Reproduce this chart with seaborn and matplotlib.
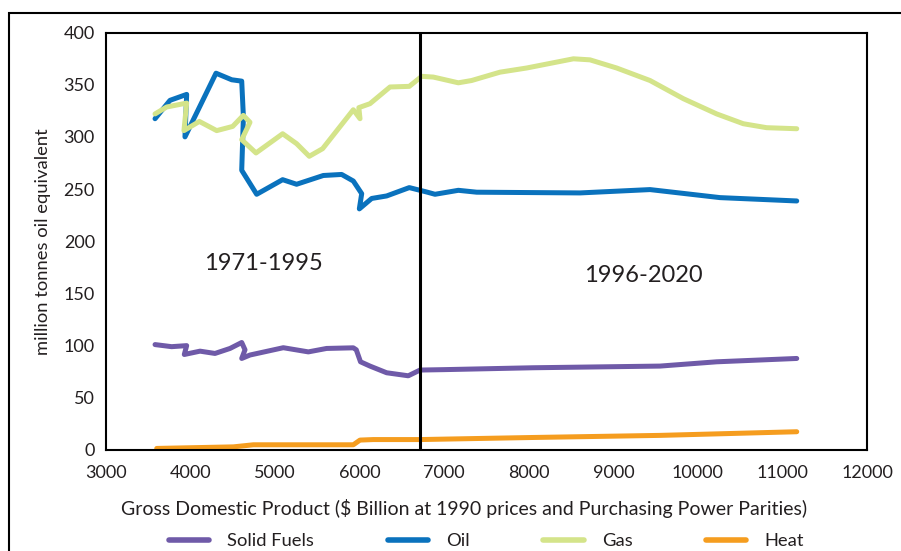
import matplotlib
matplotlib.use("Agg")
import matplotlib.pyplot as plt
from matplotlib.patches import Rectangle
import pandas as pd
import seaborn as sns

# Primary energy demand against GDP (million tonnes oil equivalent)
solid_gdp = [3580, 3776, 3954, 3926, 4112, 4289, 4467, 4605, 4644, 4605, 4703,
             5097, 5393, 5609, 5925, 5960, 6010, 6122, 6319, 6575, 6714, 7000,
             8053, 9552, 10222, 11169]
solid_val = [101, 99, 100, 91.5, 94.7, 92.5, 97.3, 103, 96, 87.7, 91,
             98, 94, 97.3, 97.9, 96, 84.5, 80.4, 74, 71.1, 76.6, 77,
             78.8, 80.4, 84.5, 87.7]

oil_gdp = [3580, 3757, 3954, 3934, 4301, 4487, 4605, 4625, 4605, 4782, 5089,
           5254, 5570, 5787, 5925, 6024, 5996, 6142, 6319, 6587, 6792, 6891,
           7167, 7384, 8606, 9434, 10262, 11169]
oil_val = [317.4, 335, 340.7, 300, 361, 354.7, 353.4, 319, 268, 245, 259,
           254.6, 263, 264, 257.7, 245.6, 231, 241, 243.4, 251.4, 247.2, 245,
           248.8, 247, 246.3, 249.5, 241.8, 238.6]

gas_gdp = [3580, 3717, 3954, 3922, 4104, 4309, 4498, 4624, 4703, 4605, 4774,
           5089, 5254, 5404, 5562, 5925, 6004, 5990, 6122, 6359, 6587, 6734,
           6871, 7167, 7324, 7660, 7976, 8528, 8724, 9039, 9434, 9828, 10222,
           10537, 10813, 11169]
gas_val = [322, 328.6, 332.4, 306, 314.8, 306, 310, 320.6, 314, 297.3, 284.6,
           303, 293.5, 281.4, 288.7, 326, 317.4, 328, 331.8, 347.8, 348.4, 358,
           357.3, 351.8, 354, 362, 366, 374.8, 373.8, 366, 354, 336.6, 322,
           312.6, 308.8, 307.8]

heat_gdp = [3600, 4506, 4743, 5925, 6004, 6161, 6714, 8053, 9552, 11169]
heat_val = [1.5, 3, 5, 5, 9.5, 10, 10, 12, 14, 17.5]

fuels = ["Solid Fuels", "Oil", "Gas", "Heat"]
colors = ["#6f5aa8", "#0a72bd", "#d4e48a", "#f59d1f"]

frames = []
for name, gx, gy in zip(fuels,
                        [solid_gdp, oil_gdp, gas_gdp, heat_gdp],
                        [solid_val, oil_val, gas_val, heat_val]):
    frames.append(pd.DataFrame({"gdp": gx, "mtoe": gy, "fuel": name}))
df = pd.concat(frames, ignore_index=True)

sns.set_style("white")
plt.rcParams["font.family"] = ["Lato", "DejaVu Sans"]
text_color = "#231f20"

fig = plt.figure(figsize=(9.01, 5.51), dpi=100)
ax = fig.add_axes([106 / 901, 1 - 450 / 551, (867 - 106) / 901, (450 - 32.5) / 551])

sns.lineplot(data=df, x="gdp", y="mtoe", hue="fuel", hue_order=fuels,
             palette=colors, sort=False, estimator=None, linewidth=3.6,
             solid_capstyle="round", solid_joinstyle="round", ax=ax,
             legend=False)

# Divider between the two periods
ax.axvline(6715, color="black", lw=2.2, zorder=5)

ax.text(4857, 179, "1971-1995", fontsize=17, ha="center", va="center",
        color=text_color)
ax.text(9351, 167, "1996-2020", fontsize=17, ha="center", va="center",
        color=text_color)

ax.set_xlim(3000, 12000)
ax.set_ylim(0, 400)
ax.set_xticks(range(3000, 12001, 1000))
ax.set_yticks(range(0, 401, 50))
ax.tick_params(axis="x", direction="out", length=5, width=1.4,
               labelsize=13, colors=text_color, pad=6)
ax.tick_params(axis="y", length=0, labelsize=13, colors=text_color, pad=8)
for sp in ax.spines.values():
    sp.set_visible(True)
    sp.set_color("black")
    sp.set_linewidth(1.5)

ax.set_xlabel("Gross Domestic Product ($ Billion at 1990 prices and Purchasing Power Parities)",
              fontsize=14, color=text_color)
ax.xaxis.set_label_coords((464 - 106) / 761, -(508 - 450) / 417.5)
ax.xaxis.label.set_va("center")
ax.set_ylabel("million tonnes oil equivalent", fontsize=13.2,
              color=text_color, labelpad=9)

handles = [plt.Line2D([], [], color=c, lw=4, solid_capstyle="round") for c in colors]
fig.legend(handles, fuels, loc="center", bbox_to_anchor=(486.5 / 901, 1 - 541 / 551),
           ncol=4, frameon=False, fontsize=13.2, handlelength=2.2,
           handletextpad=1.0, columnspacing=4.0, labelcolor=text_color)

# Outer frame around the chart
fig.patches.append(Rectangle((9 / 901, -0.1), 1.2, 1 - 13 / 551 + 0.1,
                             transform=fig.transFigure, fill=False,
                             edgecolor="black", linewidth=1.5))

fig.savefig("out.png", dpi=100)
